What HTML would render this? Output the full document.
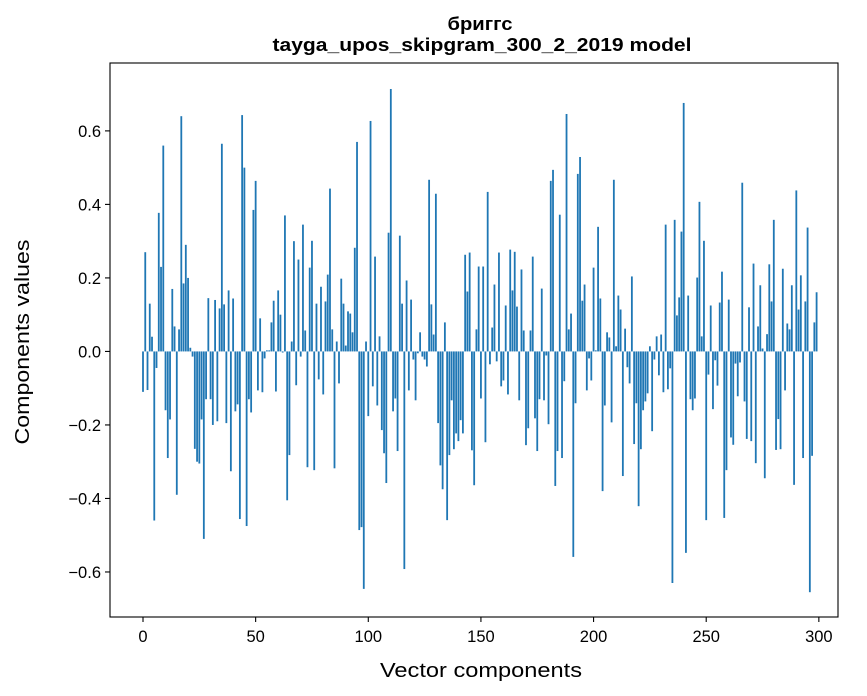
<!DOCTYPE html>
<html><head><meta charset="utf-8">
<style>
html,body{margin:0;padding:0;background:#fff;}
svg{display:block;font-family:"Liberation Sans","DejaVu Sans",sans-serif;}
</style></head>
<body>
<svg id="chart" width="867" height="696" viewBox="0 0 867 696" xmlns="http://www.w3.org/2000/svg">
<rect x="0" y="0" width="867" height="696" fill="#fff"/>
<text x="480" y="30" text-anchor="middle" font-size="18.5" font-weight="bold" textLength="65" lengthAdjust="spacingAndGlyphs">бриггс</text>
<text x="482" y="51" text-anchor="middle" font-size="18.5" font-weight="bold" textLength="419" lengthAdjust="spacingAndGlyphs">tayga_upos_skipgram_300_2_2019 model</text>
<g id="bars"></g>
<g id="axes"></g>
<text x="481" y="677" text-anchor="middle" font-size="20" textLength="202" lengthAdjust="spacingAndGlyphs">Vector components</text>
<text transform="translate(29,342) rotate(-90)" text-anchor="middle" font-size="20" textLength="205" lengthAdjust="spacingAndGlyphs">Components values</text>
</svg>
<script>
const values = [
-0.11,0.27,-0.105,0.13,0.04,-0.46,-0.045,0.377,0.23,0.56,
-0.16,-0.29,-0.185,0.17,0.068,-0.39,0.06,0.64,0.185,0.29,
0.2,0.01,-0.014,-0.265,-0.3,-0.305,-0.185,-0.51,-0.13,0.145,
-0.13,-0.2,0.14,-0.19,0.117,0.565,0.128,-0.195,0.166,-0.326,
0.144,-0.163,-0.144,-0.456,0.643,0.50,-0.475,-0.13,-0.166,0.385,
0.464,-0.106,0.09,-0.111,-0.019,0.003,0.003,0.079,0.138,-0.109,
0.166,0.10,-0.003,0.37,-0.405,-0.282,0.027,0.3,-0.092,0.25,
-0.014,0.345,0.057,-0.315,0.228,0.301,-0.323,0.13,-0.076,0.176,
-0.117,0.136,0.209,0.443,0.06,-0.318,0.027,-0.087,0.198,0.13,
0.016,0.109,0.103,0.052,0.282,0.57,-0.486,-0.478,-0.646,0.027,
-0.176,0.627,-0.095,0.258,-0.147,0.041,-0.214,-0.277,-0.358,0.323,
0.714,-0.163,-0.128,-0.271,0.315,0.13,-0.592,0.193,-0.106,0.141,
-0.022,-0.133,-0.005,0.052,-0.014,-0.022,-0.041,0.467,0.128,0.046,
0.429,-0.195,-0.31,-0.375,0.079,-0.459,-0.282,-0.133,-0.266,-0.223,
-0.244,-0.187,-0.223,0.263,0.163,0.269,-0.269,-0.364,0.06,0.231,
-0.128,0.231,-0.247,0.434,-0.035,0.065,0.182,-0.027,0.269,-0.095,
-0.079,0.125,-0.117,0.277,0.166,0.271,0.122,-0.133,0.223,0.057,
-0.255,-0.209,0.057,0.258,-0.182,-0.271,-0.13,0.171,-0.133,-0.011,
-0.198,0.464,0.494,-0.366,-0.271,0.372,-0.29,-0.081,0.646,0.06,
0.103,-0.559,-0.141,0.483,0.529,0.138,0.182,-0.106,-0.019,-0.079,
0.228,0.003,0.339,0.144,-0.38,-0.147,0.052,0.038,-0.193,0.467,
0.014,0.152,0.114,-0.339,0.062,-0.043,-0.087,0.204,-0.252,-0.141,
-0.421,-0.266,-0.16,-0.136,-0.114,0.014,-0.217,-0.022,0.041,-0.065,
0.046,-0.111,0.345,-0.103,-0.046,-0.63,0.358,0.098,0.147,0.326,
0.676,-0.548,0.152,-0.13,-0.16,-0.128,0.201,0.407,0.041,0.301,
-0.459,-0.063,0.125,-0.157,-0.024,-0.093,0.133,0.217,-0.453,-0.323,
0.141,-0.234,-0.254,-0.033,-0.122,-0.03,0.459,-0.136,-0.238,0.12,
-0.244,0.239,-0.304,0.068,0.18,0.008,-0.345,0.047,0.237,0.136,
0.358,-0.268,-0.184,-0.266,0.225,-0.106,0.076,0.06,0.18,-0.363,
0.438,0.114,0.207,-0.29,0.136,0.337,-0.655,-0.284,0.079,0.161
];
const xTicks = [0,50,100,150,200,250,300];
const yTicks = [-0.6,-0.4,-0.2,0.0,0.2,0.4,0.6];
const yTickLabels = ["\u22120.6","\u22120.4","\u22120.2","0.0","0.2","0.4","0.6"];

const NS = "http://www.w3.org/2000/svg";
const L=110,R=838,T=63,B=617;
const xmin=-14.65, xmax=308.5, ymin=-0.7225, ymax=0.7847;
function xs(v){return L+(v-xmin)/(xmax-xmin)*(R-L);}
function ys(v){return B-(v-ymin)/(ymax-ymin)*(B-T);}
const bars=document.getElementById('bars');
values.forEach((v,i)=>{
  const r=document.createElementNS(NS,'rect');
  const x0=xs(i-0.4), x1=xs(i+0.4);
  const y0=ys(Math.max(v,0)), y1=ys(Math.min(v,0));
  r.setAttribute('x',x0);r.setAttribute('width',x1-x0);
  r.setAttribute('y',y0);r.setAttribute('height',Math.max(y1-y0,0.3));
  r.setAttribute('fill','#1f77b4');
  
  
  bars.appendChild(r);
});
const axes=document.getElementById('axes');
const frame=document.createElementNS(NS,'rect');
frame.setAttribute('x',L);frame.setAttribute('y',T);frame.setAttribute('width',R-L);frame.setAttribute('height',B-T);
frame.setAttribute('fill','none');frame.setAttribute('stroke','#000');frame.setAttribute('stroke-width','1.1');


axes.appendChild(frame);
xTicks.forEach(t=>{
  const x=xs(t);
  const ln=document.createElementNS(NS,'line');
  ln.setAttribute('x1',x);ln.setAttribute('x2',x);ln.setAttribute('y1',B);ln.setAttribute('y2',B+5);
  ln.setAttribute('stroke','#000');ln.setAttribute('stroke-width','1.1');
  
  
  axes.appendChild(ln);
  const tx=document.createElementNS(NS,'text');
  tx.setAttribute('x',x);tx.setAttribute('y',B+25);tx.setAttribute('text-anchor','middle');tx.setAttribute('font-size','16.5');
  tx.textContent=t;
  
  
  axes.appendChild(tx);
});
yTicks.forEach((t,i)=>{
  const y=ys(t);
  const ln=document.createElementNS(NS,'line');
  ln.setAttribute('x1',L-5);ln.setAttribute('x2',L);ln.setAttribute('y1',y);ln.setAttribute('y2',y);
  ln.setAttribute('stroke','#000');ln.setAttribute('stroke-width','1.1');
  
  
  axes.appendChild(ln);
  const tx=document.createElementNS(NS,'text');
  tx.setAttribute('x',L-9);tx.setAttribute('y',y+6);tx.setAttribute('text-anchor','end');tx.setAttribute('font-size','16.5');
  tx.textContent=yTickLabels[i];
  
  
  axes.appendChild(tx);
});
</script>
</body></html>
